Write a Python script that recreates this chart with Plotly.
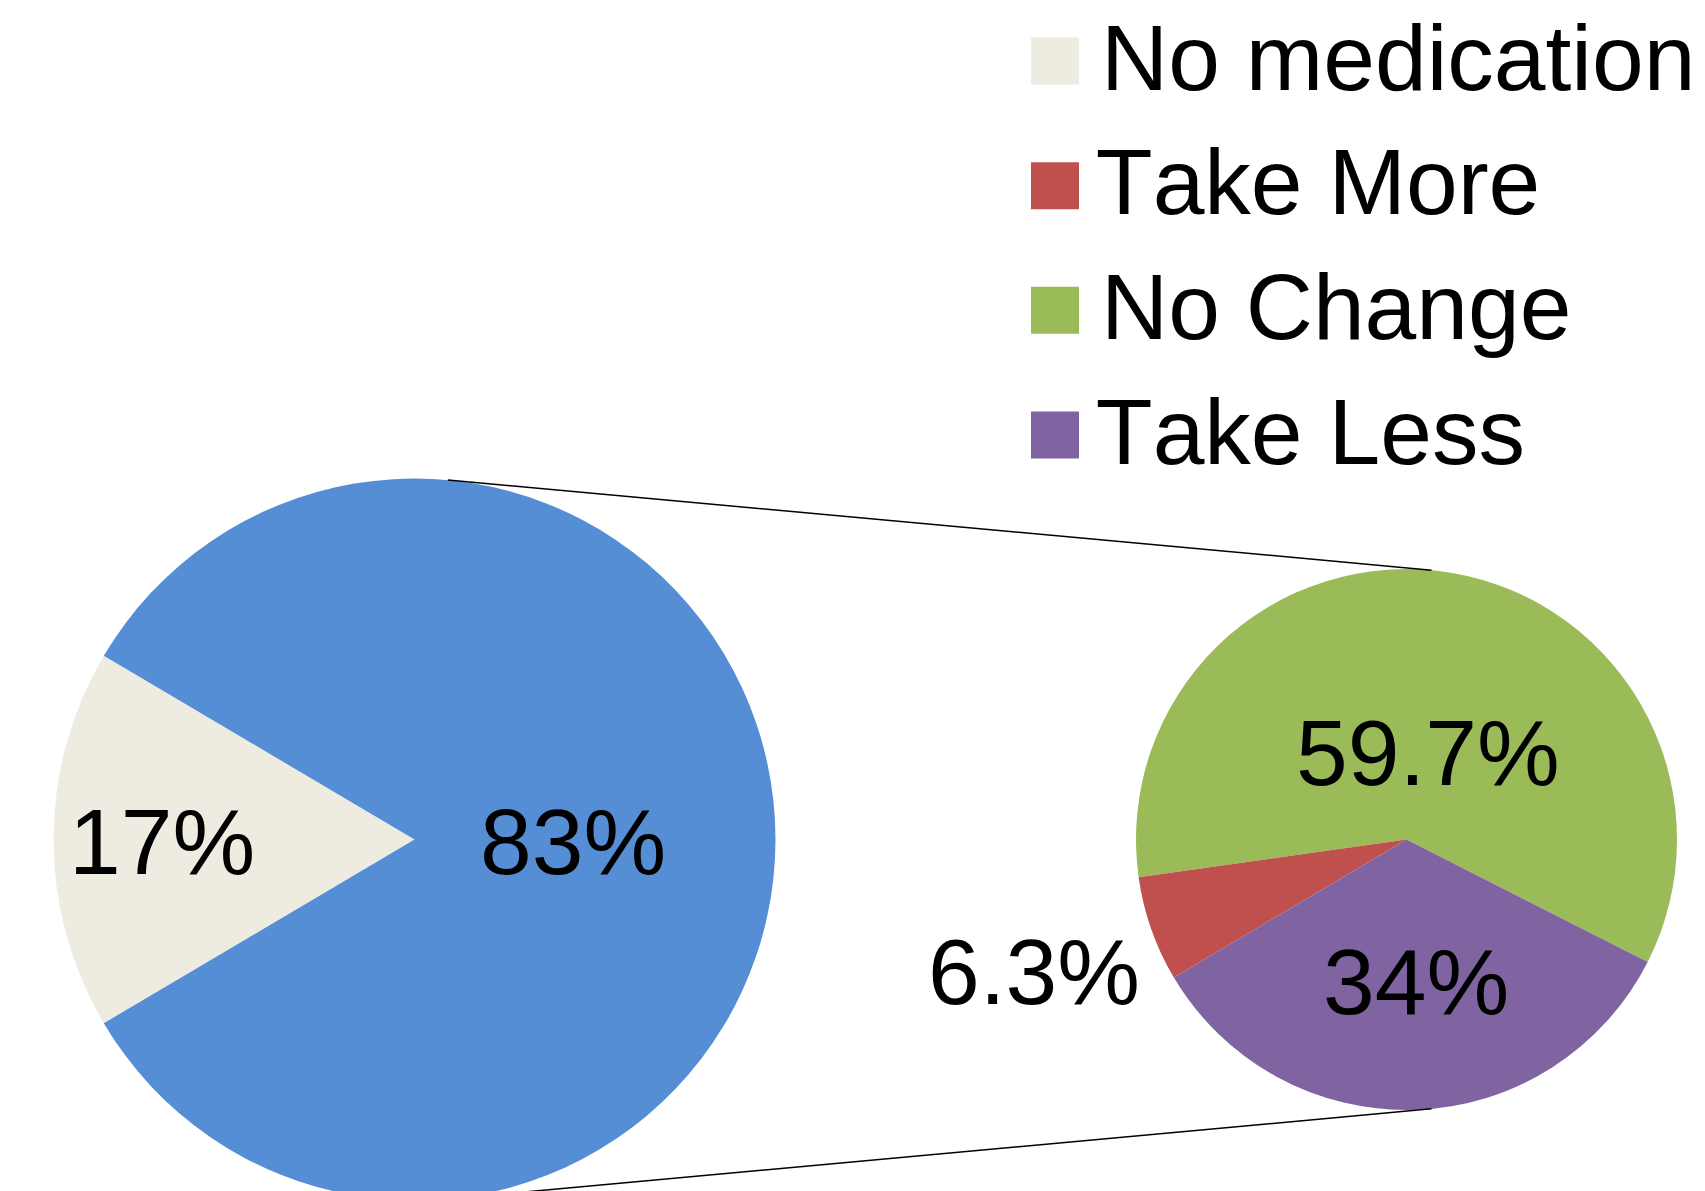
import math
import plotly.graph_objects as go

# Overall split of respondents
main_labels = ["No medication", "Medication"]
main_values = [17, 83]
main_colors = ["#EEECE1", "#558ED5"]

# Breakdown of the medication group
detail_labels = ["No Change", "Take More", "Take Less"]
detail_values = [59.7, 6.3, 34]
detail_colors = ["#9BBB59", "#C0504D", "#8064A2"]

legend_labels = ["No medication", "Take More", "No Change", "Take Less"]
legend_colors = ["#EEECE1", "#C0504D", "#9BBB59", "#8064A2"]

# ---- layout geometry (pixels) ----
W, H = 1705, 1201
FONT = "Liberation Sans, Arial, sans-serif"
FS = 93

CY = 839.5
MAIN_CX, MAIN_R = 414.5, 361
DET_CX, DET_R = 1406.5, 270.5

MAIN_ROT = 270 - main_values[0] / sum(main_values) * 180   # small slice centred on the left
DET_ROT = 262

# value label placement: radial fraction along the slice middle, plus a pixel nudge
main_label_r = [0.70, 0.44]
main_label_nudge = [(0, 3), (0, 3)]
detail_label_r = [0.33, 1.46, 0.52]
detail_label_nudge = [(7, 2), (0, 2), (5, 2)]


def px(x):
    return x / W


def py(y):
    return 1 - y / H


def mid_angles(values, rotation, clockwise=True):
    total = sum(values)
    spans = [v / total * 360 for v in values]
    mids = []
    if clockwise:
        cur = rotation
        for a in spans:
            mids.append(cur + a / 2)
            cur += a
    else:
        cur = rotation + spans[0]
        for a in spans:
            mids.append(cur - a / 2)
            cur -= a
    return mids


fig = go.Figure()

fig.add_trace(go.Pie(
    labels=main_labels, values=main_values, sort=False,
    direction="clockwise", rotation=MAIN_ROT,
    marker=dict(colors=main_colors, line=dict(width=0)),
    textinfo="none", hoverinfo="label+percent", showlegend=False,
    domain=dict(x=[px(MAIN_CX - MAIN_R), px(MAIN_CX + MAIN_R)],
                y=[py(CY + MAIN_R), py(CY - MAIN_R)]),
))

fig.add_trace(go.Pie(
    labels=detail_labels, values=detail_values, sort=False,
    direction="counterclockwise", rotation=DET_ROT,
    marker=dict(colors=detail_colors, line=dict(width=0)),
    textinfo="none", hoverinfo="label+percent", showlegend=False,
    domain=dict(x=[px(DET_CX - DET_R), px(DET_CX + DET_R)],
                y=[py(CY + DET_R), py(CY - DET_R)]),
))

annotations = []


def add_value_labels(values, mids, fracs, nudges, cx, r):
    for v, ang, f, (dx, dy) in zip(values, mids, fracs, nudges):
        t = math.radians(ang)
        x = cx + f * r * math.sin(t) + dx
        y = CY - f * r * math.cos(t) + dy
        annotations.append(dict(
            x=px(x), y=py(y), xref="paper", yref="paper",
            text=f"{v:g}%", showarrow=False,
            xanchor="center", yanchor="middle",
            font=dict(family=FONT, size=FS, color="#000000"),
        ))


add_value_labels(main_values, mid_angles(main_values, MAIN_ROT, True),
                 main_label_r, main_label_nudge, MAIN_CX, MAIN_R)
add_value_labels(detail_values, mid_angles(detail_values, DET_ROT, False),
                 detail_label_r, detail_label_nudge, DET_CX, DET_R)

shapes = []

# connector lines between the two pies
theta = math.radians(5.3)
for sgn in (-1, 1):
    shapes.append(dict(
        type="line", xref="paper", yref="paper",
        x0=px(MAIN_CX + MAIN_R * math.sin(theta)),
        y0=py(CY + sgn * MAIN_R * math.cos(theta)),
        x1=px(DET_CX + DET_R * math.sin(theta)),
        y1=py(CY + sgn * DET_R * math.cos(theta)),
        line=dict(color="#000000", width=1.5),
    ))

# legend
LEG_X0, LEG_X1 = 1031, 1079
LEG_Y0, LEG_DY, LEG_HALF = 61, 124.67, 23.5
for i, (lab, col) in enumerate(zip(legend_labels, legend_colors)):
    yc = LEG_Y0 + i * LEG_DY
    shapes.append(dict(
        type="rect", xref="paper", yref="paper",
        x0=px(LEG_X0), x1=px(LEG_X1), y0=py(yc + LEG_HALF), y1=py(yc - LEG_HALF),
        fillcolor=col, line=dict(width=0),
    ))
    annotations.append(dict(
        x=px(1099), y=py(yc - 3.5), xref="paper", yref="paper",
        text=lab, showarrow=False, xanchor="left", yanchor="middle",
        font=dict(family=FONT, size=FS, color="#000000"),
    ))

fig.update_layout(
    width=W, height=H,
    margin=dict(l=0, r=0, t=0, b=0),
    paper_bgcolor="#FFFFFF", plot_bgcolor="#FFFFFF",
    shapes=shapes, annotations=annotations,
    showlegend=False,
)

# plain (unkerned) glyph spacing, and no scrollbars for the slightly taller page
page_js = (
    "var s=document.createElement('style');"
    "s.textContent='svg text{font-kerning:none;}';"
    "document.head.appendChild(s);"
    "document.documentElement.style.overflow='hidden';"
    "document.body.style.overflow='hidden';document.body.style.margin='0';"
)

fig.write_html("out.html", post_script=page_js)
